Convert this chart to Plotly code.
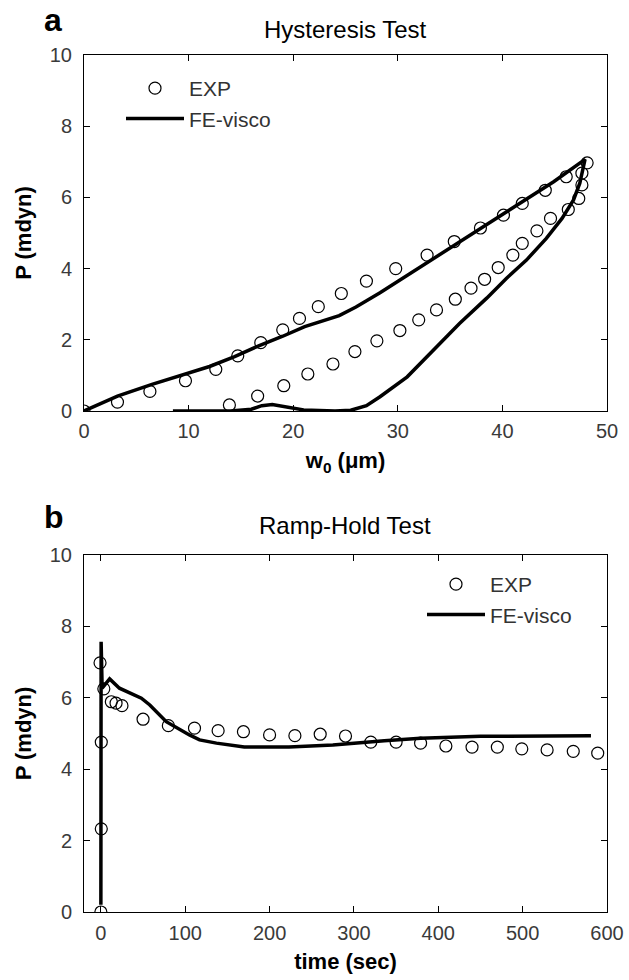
import plotly.graph_objects as go

# ---- Data: Hysteresis test (panel a) ----
hyst_exp_w = [0, 3.2, 6.3, 9.7, 12.6, 14.7, 16.9, 19.0, 20.6, 22.4, 24.6, 27.0, 29.8, 32.8, 35.4, 37.9,
              40.1, 41.9, 44.1, 46.1, 48.1,
              47.6, 47.6, 47.3, 46.3, 44.6, 43.3, 41.9, 41.0, 39.6, 38.3, 37.0, 35.5, 33.7, 32.0, 30.2,
              28.0, 25.9, 23.8, 21.4, 19.1, 16.6, 13.9]
hyst_exp_p = [0, 0.25, 0.55, 0.85, 1.17, 1.55, 1.92, 2.28, 2.6, 2.93, 3.3, 3.65, 4.0, 4.38, 4.76, 5.14,
              5.5, 5.83, 6.2, 6.58, 6.97,
              6.68, 6.35, 5.97, 5.66, 5.41, 5.06, 4.71, 4.38, 4.03, 3.7, 3.45, 3.14, 2.84, 2.56, 2.26,
              1.97, 1.67, 1.32, 1.04, 0.71, 0.42, 0.17]

hyst_fe_w = [0, 3.2, 6.5, 9.7, 12.0, 14.4, 16.7, 19.0, 21.1, 24.4, 26.0, 28.3, 31.5, 34.7, 37.9, 41.7,
             44.9, 47.9,
             47.4, 46.8, 45.7, 44.2, 42.3, 40.4, 38.5, 35.9, 33.4, 30.9, 28.3, 27.0, 25.5, 24.0, 21.0,
             19.5, 18.0, 17.0, 16.0, 14.0, 8.5]
hyst_fe_p = [0, 0.42, 0.75, 1.03, 1.25, 1.53, 1.83, 2.1, 2.37, 2.68, 2.92, 3.32, 3.92, 4.52, 5.13, 5.83,
             6.44, 7.07,
             6.4, 5.93, 5.41, 4.85, 4.24, 3.73, 3.17, 2.46, 1.71, 0.96, 0.4, 0.15, 0.02, 0.0, 0.03,
             0.1, 0.18, 0.15, 0.05, 0.0, 0.0]

# ---- Data: Ramp-hold test (panel b) ----
ramp_exp_t = [0, 0.5, 0.5, -1.0, 3.5, 12.4, 18, 25, 50, 80, 111, 139, 169, 200, 230, 260, 290, 320, 350,
              379, 409, 440, 470, 499, 529, 560, 589]
ramp_exp_p = [0, 2.33, 4.76, 6.98, 6.25, 5.89, 5.85, 5.78, 5.4, 5.22, 5.15, 5.08, 5.05, 4.96, 4.94, 4.98,
              4.93, 4.76, 4.76, 4.73, 4.65, 4.62, 4.62, 4.57, 4.54, 4.5, 4.45]

ramp_fe_t = [0, 0.3, 1.5, 10.4, 22, 48, 58, 77.5, 105, 117, 137, 170, 223, 275, 336, 379, 450, 531, 581]
ramp_fe_p = [0.2, 7.57, 6.27, 6.53, 6.27, 5.99, 5.8, 5.33, 4.96, 4.82, 4.73, 4.62, 4.62, 4.68, 4.8,
             4.87, 4.92, 4.94, 4.94]

FONT = "Liberation Sans, Arial, sans-serif"

fig = go.Figure()

marker_style = dict(symbol="circle-open", size=12, color="black", line=dict(width=1.2, color="black"))
line_style = dict(color="black", width=3.5)

fig.add_trace(go.Scatter(x=hyst_exp_w, y=hyst_exp_p, mode="markers", marker=marker_style,
                         name="EXP", xaxis="x", yaxis="y", legend="legend"))
fig.add_trace(go.Scatter(x=hyst_fe_w, y=hyst_fe_p, mode="lines", line=line_style,
                         name="FE-visco", xaxis="x", yaxis="y", legend="legend"))
fig.add_trace(go.Scatter(x=ramp_exp_t, y=ramp_exp_p, mode="markers", marker=marker_style,
                         name="EXP", xaxis="x2", yaxis="y2", legend="legend2"))
fig.add_trace(go.Scatter(x=ramp_fe_t, y=ramp_fe_p, mode="lines", line=line_style,
                         name="FE-visco", xaxis="x2", yaxis="y2", legend="legend2"))

H_PLOT = 857.0
def py(p):
    return (912 - p) / H_PLOT

def px(p):
    return (p - 84) / 523.0

axis_common = dict(showline=True, linecolor="black", linewidth=1, mirror="ticks",
                   ticks="inside", ticklen=6, tickcolor="black", showgrid=False, zeroline=False,
                   automargin=False,
                   tickfont=dict(family=FONT, size=20, color="#3a3a3a"))

TITLE_FONT = dict(family=FONT, size=22, color="black")

fig.update_layout(
    width=629, height=980,
    margin=dict(l=84, r=22, t=55, b=68),
    paper_bgcolor="white", plot_bgcolor="white",
    font=dict(family=FONT, color="black"),
    xaxis=dict(domain=[0, 1], range=[0, 50], tickvals=[0, 10, 20, 30, 40, 50], anchor="y",
               ticklabelstandoff=2,
               title=dict(text="<b>w<sub>0</sub> (\u03bcm)</b>", font=TITLE_FONT, standoff=11),
               **axis_common),
    yaxis=dict(domain=[py(411), 1.0], range=[0, 10], tickvals=[0, 2, 4, 6, 8, 10], anchor="x",
               ticklabelstandoff=7,
               title=dict(text="<b>P (mdyn)</b>", font=TITLE_FONT, standoff=12),
               **axis_common),
    xaxis2=dict(domain=[0, 1], range=[-20, 600], tickvals=[0, 100, 200, 300, 400, 500, 600], anchor="y2",
                ticklabelstandoff=3,
                title=dict(text="<b>time (sec)</b>", font=TITLE_FONT, standoff=10),
                **axis_common),
    yaxis2=dict(domain=[0, py(555)], range=[0, 10], tickvals=[0, 2, 4, 6, 8, 10], anchor="x2",
                ticklabelstandoff=7,
                title=dict(text="<b>P (mdyn)</b>", font=TITLE_FONT, standoff=12),
                **axis_common),
    legend=dict(x=px(121), y=py(68), xanchor="left", yanchor="top", bgcolor="rgba(0,0,0,0)",
                font=dict(family=FONT, size=21, color="#333"), tracegroupgap=0, itemwidth=58),
    legend2=dict(x=px(422), y=py(564), xanchor="left", yanchor="top", bgcolor="rgba(0,0,0,0)",
                 font=dict(family=FONT, size=21, color="#333"), tracegroupgap=0, itemwidth=58),
    showlegend=True,
    annotations=[
        dict(text="Hysteresis Test", x=px(345), y=py(29), xref="paper", yref="paper", showarrow=False,
             font=dict(family=FONT, size=24, color="black"), xanchor="center", yanchor="middle"),
        dict(text="Ramp-Hold Test", x=px(345), y=py(525), xref="paper", yref="paper", showarrow=False,
             font=dict(family=FONT, size=24, color="black"), xanchor="center", yanchor="middle"),
        dict(text="<b>a</b>", x=px(42), y=py(20), xref="paper", yref="paper", showarrow=False,
             font=dict(family=FONT, size=32, color="black"), xanchor="left", yanchor="middle"),
        dict(text="<b>b</b>", x=px(42), y=py(517), xref="paper", yref="paper", showarrow=False,
             font=dict(family=FONT, size=32, color="black"), xanchor="left", yanchor="middle"),
    ],
)

fig.write_html("out.html", config={"displayModeBar": False},
               post_script="document.body.style.margin='0';document.body.style.overflow='hidden';")
